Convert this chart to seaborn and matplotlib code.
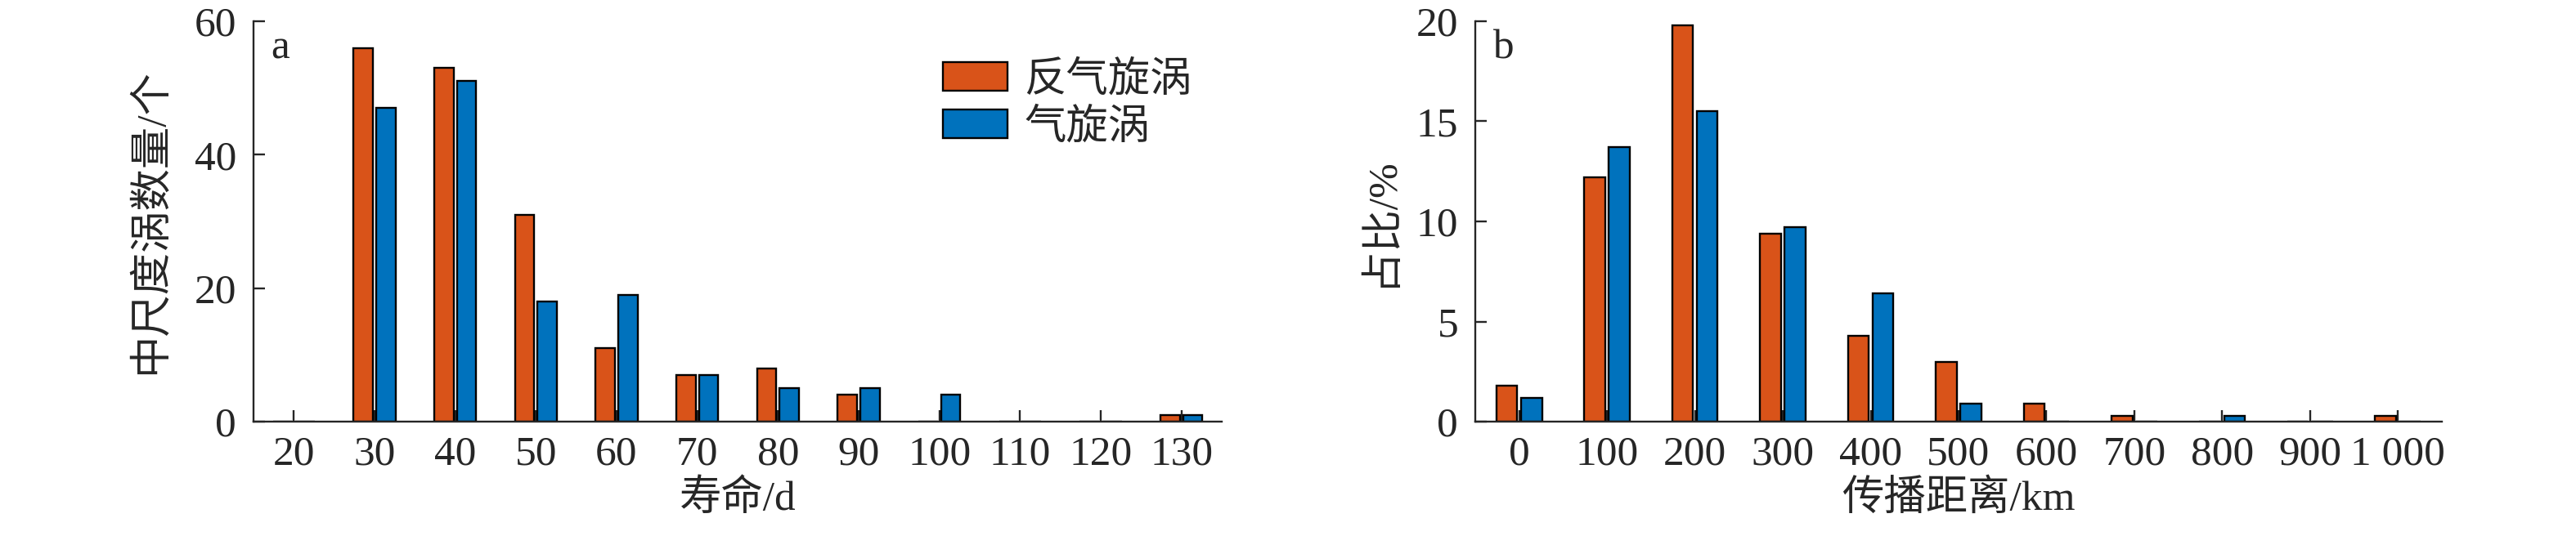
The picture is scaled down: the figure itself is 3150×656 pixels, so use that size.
import pandas as pd
import matplotlib.pyplot as plt
import seaborn as sns
from matplotlib.patches import Patch

# -----------------------------
# Data
# -----------------------------
life_cats = ['20', '30', '40', '50', '60', '70', '80', '90', '100', '110', '120', '130']
life_anti = [0, 56, 53, 31, 11, 7, 8, 4, 0, 0, 0, 1]
life_cyc = [0, 47, 51, 18, 19, 7, 5, 5, 4, 0, 0, 1]

dist_cats = ['0', '100', '200', '300', '400', '500', '600', '700', '800', '900', '1 000']
dist_anti = [1.8, 12.2, 19.8, 9.4, 4.3, 3.0, 0.9, 0.3, 0, 0, 0.3]
dist_cyc = [1.2, 13.7, 15.5, 9.7, 6.4, 0.9, 0, 0, 0.3, 0, 0]

series = ['反气旋涡', '气旋涡']
colors = ['#D95319', '#0072BD']


def long_df(cats, anti, cyc):
    return pd.DataFrame({
        'cat': cats + cats,
        'val': anti + cyc,
        'type': [series[0]] * len(cats) + [series[1]] * len(cats),
    })


# -----------------------------
# Style
# -----------------------------
sns.set_style('ticks')
plt.rcParams['font.family'] = ['Liberation Serif', 'Noto Sans CJK SC']
plt.rcParams['axes.linewidth'] = 1.7
plt.rcParams['xtick.major.width'] = 1.7
plt.rcParams['ytick.major.width'] = 1.7
fs = 37

fig = plt.figure(figsize=(31.5, 6.56), dpi=100)
ax1 = fig.add_axes([0.0984, 0.2134, 0.3759, 0.747])
ax2 = fig.add_axes([0.5727, 0.2134, 0.3752, 0.747])

panels = [
    (ax1, long_df(life_cats, life_anti, life_cyc), life_cats, 60, [0, 20, 40, 60],
     '寿命/d', '中尺度涡数量/个', 'a', -0.086),
    (ax2, long_df(dist_cats, dist_anti, dist_cyc), dist_cats, 20, [0, 5, 10, 15, 20],
     '传播距离/km', '占比/%', 'b', -0.078),
]

for ax, df, cats, ymax, yticks, xlab, ylab, tag, ylab_x in panels:
    sns.barplot(data=df, x='cat', y='val', hue='type', order=cats,
                hue_order=series, palette=colors, saturation=1,
                width=0.56, gap=0.15, edgecolor='black', linewidth=1.7,
                errorbar=None, legend=False, ax=ax)
    ax.set_xlim(-0.5, len(cats) - 0.5)
    ax.set_ylim(0, ymax)
    ax.set_yticks(yticks)
    ax.tick_params(axis='both', direction='in', length=10, labelsize=fs)
    ax.tick_params(axis='x', pad=12)
    ax.tick_params(axis='y', pad=15)
    ax.set_xlabel(xlab, fontsize=fs, va='top')
    ax.set_ylabel(ylab, fontsize=fs)
    ax.xaxis.set_label_coords(0.5, -0.145)
    ax.yaxis.set_label_coords(ylab_x, 0.5)
    sns.despine(ax=ax)
    ax.text(0.018, 0.908, tag, transform=ax.transAxes, fontsize=fs,
            va='baseline', ha='left')

handles = [Patch(facecolor=c, edgecolor='black', linewidth=1.7) for c in colors]
ax1.legend(handles=handles, labels=series, loc='upper left',
           bbox_to_anchor=(0.712, 0.9), frameon=False, fontsize=fs,
           handlelength=1.53, handleheight=0.66, handletextpad=0.4,
           labelspacing=0.2, borderpad=0, borderaxespad=0)

plt.savefig('out.png', dpi=100)
